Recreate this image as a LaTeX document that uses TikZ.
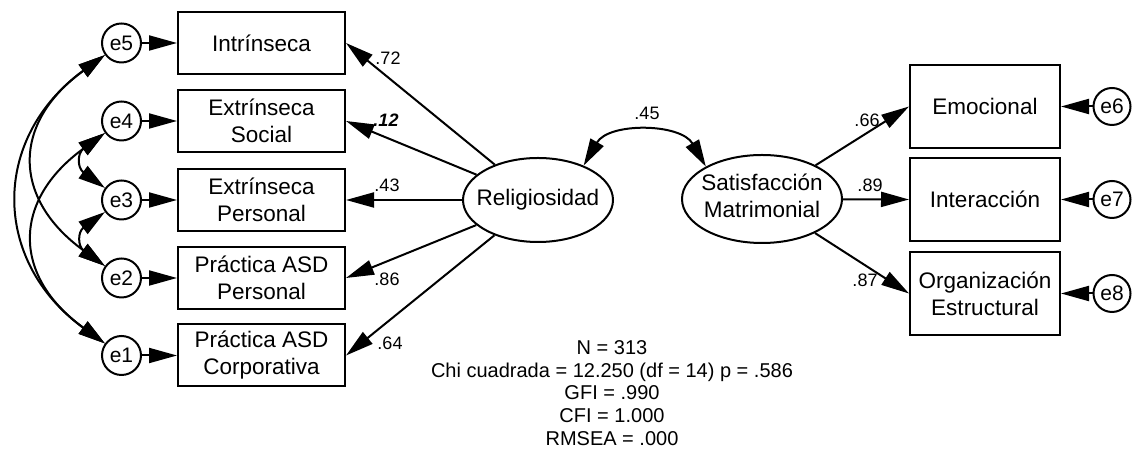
\documentclass[tikz,border=0pt]{standalone}
\usepackage{fontspec}
\setmainfont{Liberation Sans}
\usetikzlibrary{arrows.meta,shapes.geometric}
\begin{document}
\begin{tikzpicture}[x=1pt,y=1pt,
  every node/.style={inner sep=0pt},
  obs/.style={draw,line width=2pt,rectangle,align=center,font=\fontsize{22.5}{27}\selectfont},
  obsL/.style={obs,minimum width=167pt,minimum height=62pt},
  obsR/.style={obs,minimum width=150pt,minimum height=83pt},
  err/.style={draw,line width=2pt,circle,minimum size=39pt,font=\fontsize{21}{24}\selectfont},
  lat/.style={draw,line width=2pt,ellipse},
  coef/.style={font=\fontsize{18}{21}\selectfont},
  path/.style={line width=2pt,-{Triangle[length=28pt,width=15pt]}},
  cov/.style={line width=2pt,{Triangle[length=27pt,width=15pt]}-{Triangle[length=27pt,width=15pt]}}
]
\fill[white] (0,0) rectangle (1133,454);
\useasboundingbox (0,0) rectangle (1133,454);

% left indicators
\node[obsL] (b1) at (261.5,411) {Intrínseca};
\node[obsL] (b2) at (261.5,333) {Extrínseca\\Social};
\node[obsL] (b3) at (261.5,254) {Extrínseca\\Personal};
\node[obsL] (b4) at (261.5,176) {Práctica ASD\\Personal};
\node[obsL] (b5) at (261.5,98.5) {Práctica ASD\\Corporativa};

\node[err] (e5) at (121.5,411) {e5};
\node[err] (e4) at (121.5,333) {e4};
\node[err] (e3) at (121.5,254) {e3};
\node[err] (e2) at (121.5,176) {e2};
\node[err] (e1) at (121.5,98.5) {e1};

% latent
\node[lat,minimum width=150pt,minimum height=84pt,font=\fontsize{22.5}{27}\selectfont] (rel) at (538,254) {\makebox[0pt]{Religiosidad}};
\node[lat,minimum width=160pt,minimum height=88pt,font=\fontsize{22.5}{27}\selectfont] (sat) at (762,255)
  {\makebox[0pt]{\begin{tabular}{@{}c@{}}Satisfacción\\Matrimonial\end{tabular}}};

% right indicators
\node[obsR] (r1) at (985,347.5) {Emocional};
\node[obsR] (r2) at (985,254.5) {Interacción};
\node[obsR] (r3) at (985,160.5) {Organización\\Estructural};

\node[err,minimum size=37pt] (e6) at (1112,347.5) {e6};
\node[err,minimum size=37pt] (e7) at (1112,254.5) {e7};
\node[err,minimum size=37pt] (e8) at (1112,160.5) {e8};

% error paths
\foreach \e/\b in {e5/b1,e4/b2,e3/b3,e2/b4,e1/b5,e6/r1,e7/r2,e8/r3}
  \draw[path] (\e) -- (\b);

% loadings
\foreach \b in {b1,b2,b3,b4,b5}
  \draw[path] (rel) -- (\b.east);
\foreach \b in {r1,r2,r3}
  \draw[path] (sat) -- (\b.west);

% covariances
\draw[cov] (rel.37) to[out=60,in=120,looseness=1.05] (sat.150);
\draw[cov] (e5) to[out=216,in=144,looseness=1.25] (e1);
\draw[cov] (e5) to[out=216,in=144,looseness=1.4] (e2);
\draw[cov] (e4) to[out=216,in=144,looseness=1.4] (e1);
\draw[cov] (e4) to[out=216,in=144,looseness=1.6] (e3);
\draw[cov] (e3) to[out=216,in=144,looseness=1.6] (e2);

% coefficients
\node[coef] (c1) at (388,396) {.72};
\node[coef] (c2) at (386,334) {\bfseries\itshape .12};
\node[coef] (c3) at (387,269) {.43};
\node[coef] (c4) at (387,175) {.86};
\node[coef] (c5) at (390,111) {.64};
\node[coef] (c6) at (647,341) {.45};
\node[coef] (c7) at (867,334) {.66};
\node[coef] (c8) at (870,269) {.89};
\node[coef] (c9) at (865,174) {.87};

% fit
\node[align=center,font=\fontsize{20}{22.6}\selectfont] (fit) at (612,61)
  {N = 313\\Chi cuadrada = 12.250 (df = 14) p = .586\\GFI = .990\\CFI = 1.000\\RMSEA = .000};
\end{tikzpicture}
\end{document}
